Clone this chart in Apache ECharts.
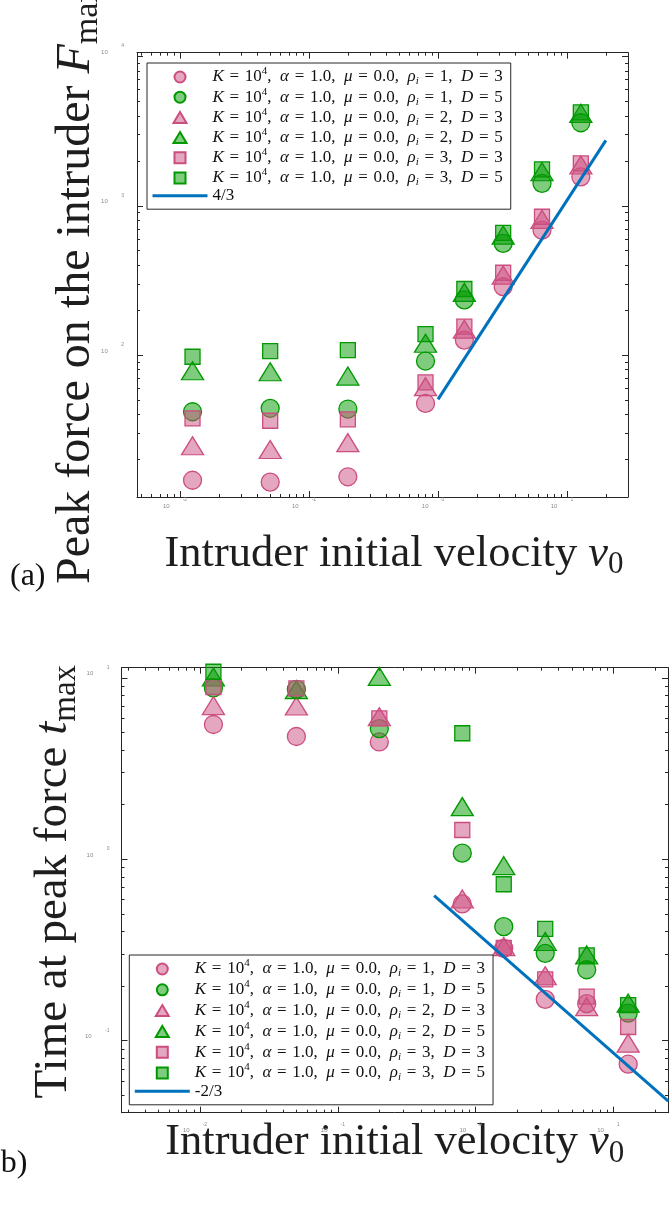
<!DOCTYPE html>
<html>
<head>
<meta charset="utf-8">
<script src="https://cdn.jsdelivr.net/npm/echarts@6/dist/echarts.min.js"></script>
<style>
  html, body { margin: 0; padding: 0; background: #fff; }
  #chart { width: 670px; height: 1208px; }
</style>
</head>
<body>
<div id="chart"></div>
<script>
// Intruder initial velocity v0 (shared by both panels)
const velocity = [0.0125, 0.05, 0.2, 0.8, 1.6, 3.2, 6.4, 12.8];

// Run parameters for the six series: density ratio rho_i and diameter D
const densityRatio = [1, 1, 2, 2, 3, 3];
const diameter = [3, 5, 3, 5, 3, 5];

// (a) Peak force on the intruder F_max
const forceRho1D3 = [14.5, 14.1, 15.3, 47.4, 126, 287, 687, 1563];
const forceRho1D5 = [41.7, 44.0, 43.5, 91.2, 234, 560, 1413, 3597];
const forceRho2D3 = [24.7, 23.3, 25.9, 61.4, 149, 343, 811, 1875];
const forceRho2D5 = [78.5, 77.3, 72.3, 120, 263, 636, 1690, 4161];
const forceRho3D3 = [37.7, 36.3, 37.1, 65.6, 155, 356, 844, 1923];
const forceRho3D5 = [97.4, 106.4, 108, 138, 277, 659, 1754, 4227];

// (b) Time at peak force t_max (null: not shown inside the axes)
const timeRho1D3 = [5.53, 4.75, 4.43, 0.567, 0.323, 0.169, 0.160, 0.0742];
const timeRho1D5 = [8.8, 8.63, 5.25, 1.08, 0.425, 0.303, 0.246, 0.142];
const timeRho2D3 = [7.03, 6.99, 6.1, 0.604, 0.330, 0.228, 0.154, 0.0969];
const timeRho2D5 = [10.1, 8.6, 10.18, 1.95, 0.922, 0.352, 0.297, 0.161];
const timeRho3D3 = [8.9, 8.75, 5.97, 1.45, 0.325, 0.218, 0.175, 0.119];
const timeRho3D5 = [10.8, null, null, 4.95, 0.728, 0.413, 0.295, 0.157];

// Power-law guide lines (end points)
const guideForceX = [1, 20];
const guideForceY = [50.5, 2740];
const guideTimeX = [0.5, 25];
const guideTimeY = [0.63, 0.0464];

// Decade tick values
const velocityTicks = [0.01, 0.1, 1, 10];
const forceTicks = [100, 1000, 10000];
const timeTicks = [0.1, 1, 10];

// Axis ranges
const velocityRangeA = [0.00464, 29.7];
const forceRange = [11.2, 10600];
const velocityRangeB = [0.00269, 24.9];
const timeRange = [0.0401, 11.37];

const INK = '#262626';
const SERIF = '"Liberation Serif", "Times New Roman", serif';
const SANS = '"Liberation Sans", Arial, sans-serif';
const TICK_GREY = '#8a8a8a';

const PINK = { fill: 'rgba(204,77,128,0.5)', edge: 'rgb(204,77,128)' };
const GREEN = { fill: 'rgba(0,153,0,0.5)', edge: 'rgb(0,153,0)' };
const TRIANGLE_ICON = 'path://M6.5,0L13,11L0,11Z';
const SQUARE_ICON = 'path://M0,0L10,0L10,10L0,10Z';
const LINE_ICON = 'path://M0,0L55,0L55,3L0,3Z';
const markers = [
  { symbol: 'circle', size: 18, c: PINK, icon: 'circle' },
  { symbol: 'circle', size: 18, c: GREEN, icon: 'circle' },
  { symbol: 'triangle', size: [22, 18], c: PINK, icon: TRIANGLE_ICON },
  { symbol: 'triangle', size: [22, 18], c: GREEN, icon: TRIANGLE_ICON },
  { symbol: 'rect', size: 15, c: PINK, icon: SQUARE_ICON },
  { symbol: 'rect', size: 15, c: GREEN, icon: SQUARE_ICON }
];

const seriesNames = densityRatio.map((r, i) =>
  'K = 10^4, α = 1.0, μ = 0.0, ρi = ' + r + ', D = ' + diameter[i]);
const legendRichText = {};
densityRatio.forEach((r, i) => {
  legendRichText[seriesNames[i]] =
    '{it|K}{eq|=}{rm|10}{sup|4}{rm|,  }{it|α}{eq|=}{rm|1.0,  }{it|μ}{eq|=}{rm|0.0,  }' +
    '{it|ρ}{sub|i}{eq|=}{rm|' + r + ',  }{it|D}{eq|=}{rm|' + diameter[i] + '}';
});
legendRichText['4/3'] = '{rm|4/3}';
legendRichText['-2/3'] = '{rm|-2/3}';

function minorTicks(range) {
  const out = [];
  const d0 = Math.floor(Math.log10(range[0]));
  const d1 = Math.ceil(Math.log10(range[1]));
  for (let d = d0; d <= d1; d++) {
    for (let m = 2; m <= 9; m++) {
      const v = Number((m * Math.pow(10, d)).toPrecision(6));
      if (v >= range[0] && v <= range[1]) out.push(v);
    }
  }
  return out;
}

function decadeLabel(v) {
  return '{b|10}{s|' + Math.round(Math.log10(v)) + '}';
}

const xTickRich = {
  b: { fontFamily: SANS, fontSize: 6, color: TICK_GREY, lineHeight: 6, padding: [12, 13, 0, 0] },
  s: { fontFamily: SANS, fontSize: 5, color: TICK_GREY, lineHeight: 5 }
};
const yTickRich = {
  b: { fontFamily: SANS, fontSize: 6, color: TICK_GREY, lineHeight: 6, padding: [0, 13.5, 8, 0] },
  s: { fontFamily: SANS, fontSize: 5, color: TICK_GREY, lineHeight: 5, padding: [0, 0, 21, 0] }
};

// Axis title styles: serif text, italic symbol, upright subscript
function titleRich(size) {
  const lh = Math.round(size * 1.16);
  return {
    rm: { fontFamily: SERIF, fontSize: size, lineHeight: lh, color: '#1e1e1e' },
    it: { fontFamily: SERIF, fontStyle: 'italic', fontSize: size, lineHeight: lh, color: '#1e1e1e' },
    sub: { fontFamily: SERIF, fontSize: Math.round(size * 0.7), lineHeight: 10,
           padding: [Math.round(size * 0.5), 0, 0, 0], color: '#1e1e1e' }
  };
}

const LEG_FS = 17;
const legendRich = {
  rm: { fontFamily: SERIF, fontSize: LEG_FS, lineHeight: 14, color: '#111' },
  it: { fontFamily: SERIF, fontStyle: 'italic', fontSize: LEG_FS, lineHeight: 14, color: '#111' },
  eq: { fontFamily: SERIF, fontSize: LEG_FS, lineHeight: 14, padding: [0, 5.7, 0, 5.7], color: '#111' },
  sup: { fontFamily: SERIF, fontSize: 11, lineHeight: 4, padding: [0, 0, 11, 0], color: '#111' },
  sub: { fontFamily: SERIF, fontStyle: 'italic', fontSize: 11, lineHeight: 4, padding: [9, 0, 0, 0], color: '#111' }
};

function boxAxes(dim, grid, range, majors, opt) {
  const minors = minorTicks(range);
  const first = dim === 'x' ? 'bottom' : 'left';
  const second = dim === 'x' ? 'top' : 'right';
  const base = {
    type: 'log', logBase: 10, gridIndex: grid, min: range[0], max: range[1],
    splitLine: { show: false }, silent: true
  };
  const line = { show: true, onZero: false, lineStyle: { color: INK, width: 1 } };
  const major = { show: true, inside: true, length: 6, customValues: majors, lineStyle: { color: INK, width: 1 } };
  const minor = { show: true, inside: true, length: 3, customValues: minors, lineStyle: { color: INK, width: 1 } };
  return [
    Object.assign({}, base, {
      position: first, axisLine: line, axisTick: major,
      axisLabel: Object.assign({
        show: true, customValues: majors, formatter: decadeLabel,
        rich: dim === 'x' ? xTickRich : yTickRich
      }, opt.label),
      name: opt.name, nameLocation: 'middle', nameGap: opt.nameGap, nameMoveOverlap: false,
      nameTextStyle: Object.assign({ rich: titleRich(opt.titleSize) }, opt.nameStyle || {})
    }),
    Object.assign({}, base, { position: first, axisLine: { show: false }, axisTick: minor, axisLabel: { show: false } }),
    Object.assign({}, base, { position: second, axisLine: line, axisTick: major, axisLabel: { show: false } }),
    Object.assign({}, base, { position: second, axisLine: { show: false }, axisTick: minor, axisLabel: { show: false } })
  ];
}

const xLabelTitle = '{rm|Intruder initial velocity }{it|v}{sub|0}';

const xAxes = [].concat(
  boxAxes('x', 0, velocityRangeA, velocityTicks, {
    label: { margin: 0, padding: [0, 10, 0, 0] },
    name: xLabelTitle, nameGap: 31, titleSize: 44.5, nameStyle: { padding: [0, 0, 0, 23] }
  }),
  boxAxes('x', 1, velocityRangeB, velocityTicks, {
    label: { margin: 9, padding: [0, 10, 0, 0] },
    name: xLabelTitle, nameGap: 4, titleSize: 44.5
  })
);
const yAxes = [].concat(
  boxAxes('y', 0, forceRange, forceTicks, {
    label: { margin: 13 },
    name: '{rm|Peak force on the intruder }{it|F}{sub|max}', nameGap: 33, titleSize: 48,
    nameStyle: { padding: [0, 20, 0, 0] }
  }),
  boxAxes('y', 1, timeRange, timeTicks, {
    label: { margin: 12 },
    name: '{rm|Time at peak force }{it|t}{sub|max}', nameGap: 40, titleSize: 47,
    nameStyle: { padding: [0, 0, 0, 17] }
  })
);

function scatterSeries(values, k, axisIndex) {
  const m = markers[k];
  return {
    type: 'scatter', name: seriesNames[k],
    xAxisIndex: axisIndex, yAxisIndex: axisIndex,
    symbol: m.symbol, symbolSize: m.size,
    itemStyle: { color: m.c.fill, borderColor: m.c.edge, borderWidth: 1.3, opacity: 1 },
    emphasis: { disabled: true },
    data: velocity.map((v, i) => [v, values[i]]).filter(p => p[1] != null)
  };
}
function guideSeries(name, xs, ys, axisIndex) {
  return {
    type: 'line', name: name, xAxisIndex: axisIndex, yAxisIndex: axisIndex,
    showSymbol: false, symbol: 'none', color: '#0072BD',
    lineStyle: { color: '#0072BD', width: 3 },
    itemStyle: { color: '#0072BD' },
    emphasis: { disabled: true },
    data: xs.map((x, i) => [x, ys[i]])
  };
}

const forceSets = [forceRho1D3, forceRho1D5, forceRho2D3, forceRho2D5, forceRho3D3, forceRho3D5];
const timeSets = [timeRho1D3, timeRho1D5, timeRho2D3, timeRho2D5, timeRho3D3, timeRho3D5];

const series = [].concat(
  forceSets.map((vals, k) => scatterSeries(vals, k, 0)),
  [guideSeries('4/3', guideForceX, guideForceY, 0)],
  timeSets.map((vals, k) => scatterSeries(vals, k, 4)),
  [guideSeries('-2/3', guideTimeX, guideTimeY, 4)]
);

function legendFor(left, top, guideName, gap) {
  return {
    left: left, top: top, orient: 'vertical',
    itemWidth: 55, itemHeight: 11, itemGap: gap,
    padding: [3, 8, 5, 5.5],
    symbolKeepAspect: true,
    borderColor: INK, borderWidth: 1, backgroundColor: '#fff',
    selectedMode: false,
    data: seriesNames.map((n, k) => ({ name: n, icon: markers[k].icon })).concat([
      { name: guideName, icon: LINE_ICON, itemStyle: { color: '#0072BD', borderWidth: 0 } }
    ]),
    formatter: n => legendRichText[n],
    textStyle: { rich: legendRich, fontFamily: SERIF, fontSize: LEG_FS, color: '#111' }
  };
}

const chart = echarts.init(document.getElementById('chart'), null, { renderer: 'canvas' });
chart.setOption({
  animation: false,
  backgroundColor: '#fff',
  grid: [
    { left: 137, top: 52.7, width: 491, height: 444.3, containLabel: false, outerBoundsMode: 'none' },
    { left: 121.5, top: 667.7, width: 546.5, height: 445, containLabel: false, outerBoundsMode: 'none' }
  ],
  xAxis: xAxes,
  yAxis: yAxes,
  legend: [legendFor(147, 63, '4/3', -1.8), legendFor(129.3, 955, '-2/3', -1.2)],
  graphic: [
    { type: 'text', left: 10, top: 561, style: { text: '(a)', font: '32px ' + SERIF, fill: '#111' } },
    { type: 'text', left: -10, top: 1148, style: { text: '(b)', font: '32px ' + SERIF, fill: '#111' } }
  ],
  series: series
});
</script>
</body>
</html>
